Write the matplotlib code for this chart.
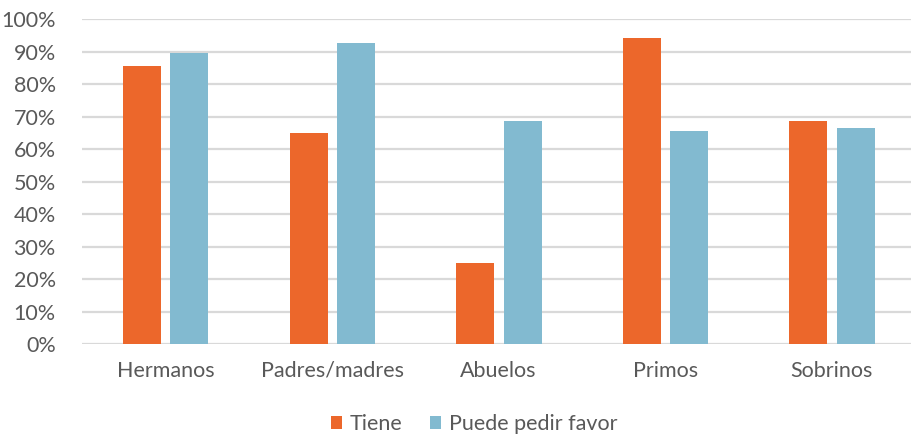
import matplotlib.pyplot as plt
import numpy as np

categories = ['Hermanos', 'Padres/madres', 'Abuelos', 'Primos', 'Sobrinos']
tiene = [85.8, 65.0, 24.9, 94.2, 68.8]
puede_pedir = [89.6, 92.7, 68.8, 65.8, 66.5]
series_names = ['Tiene', 'Puede pedir favor']

plt.rcParams['font.family'] = ['Lato', 'DejaVu Sans']
text_color = '#595959'

fig = plt.figure(figsize=(9.12, 4.36), dpi=100)
ax = fig.add_axes([0.0901, 0.2103, 0.9134, 0.745])

x = np.arange(len(categories))
w = 0.228
ax.bar(x - 0.141, tiene, w, color='#EC672B', label=series_names[0], zorder=3)
ax.bar(x + 0.144, puede_pedir, w, color='#82BAD0', label=series_names[1], zorder=3)

ax.set_xlim(-0.5, len(categories) - 0.5)
ax.set_ylim(0, 100)
ax.set_yticks(np.arange(0, 101, 10))
ax.set_yticklabels([f'{v}%' for v in range(0, 101, 10)])
ax.set_xticks(x)
ax.set_xticklabels(categories)

ax.yaxis.grid(True, color='#D9D9D9', linewidth=1.6, zorder=0)
ax.set_axisbelow(True)
for s in ax.spines.values():
    s.set_visible(False)
ax.tick_params(axis='both', length=0, colors=text_color, labelsize=15.5)
ax.tick_params(axis='x', pad=12)
ax.tick_params(axis='y', pad=19)

fig.legend(loc='center', bbox_to_anchor=(0.52, 0.027), ncol=2, frameon=False,
           fontsize=15.5, labelcolor=text_color, handlelength=0.5, handleheight=0.5,
           handletextpad=0.35, columnspacing=1.3)

fig.savefig('out.png', dpi=100)
